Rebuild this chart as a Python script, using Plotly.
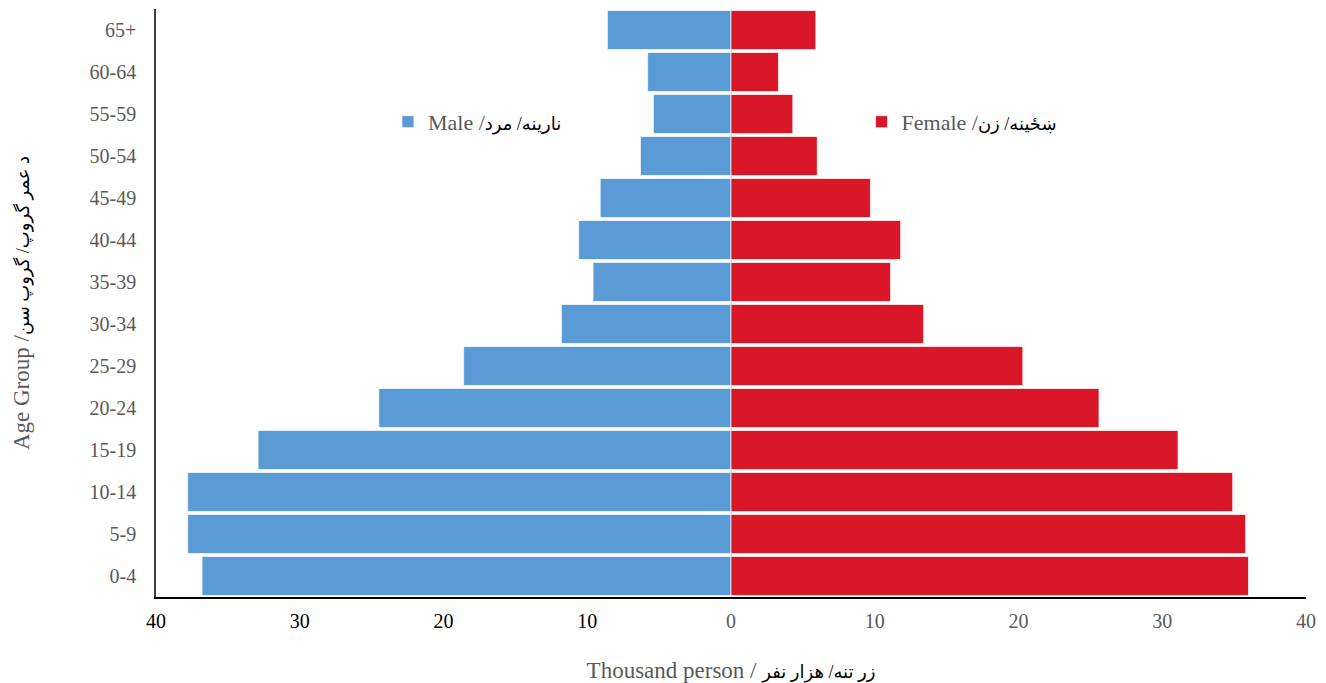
import plotly.graph_objects as go

age_groups = ["0-4", "5-9", "10-14", "15-19", "20-24", "25-29", "30-34",
              "35-39", "40-44", "45-49", "50-54", "55-59", "60-64", "65+"]
male = [36.8, 37.8, 37.8, 32.9, 24.5, 18.6, 11.8, 9.6, 10.6, 9.1, 6.3, 5.4, 5.8, 8.6]
female = [36.0, 35.8, 34.9, 31.1, 25.6, 20.3, 13.4, 11.1, 11.8, 9.7, 6.0, 4.3, 3.3, 5.9]
tick_vals = [-40, -30, -20, -10, 0, 10, 20, 30, 40]
tick_labels = ["40", "30", "20", "10", "0", "10", "20", "30", "40"]

male_en, male_fa = "Male /", "نارینه/ مرد"
female_en, female_fa = "Female /", "ښځینه/ زن"
x_title_en, x_title_fa = "Thousand person / ", "زر تنه/ هزار نفر"
y_title_en, y_title_fa = "Age Group /", "د عمر گروپ/ گروپ سن"

FONT = "Liberation Serif, Times New Roman, DejaVu Sans, serif"
GRAY = "#595959"


def mix(en, fa, size):
    return f'{en}<span style="color:#000000;font-size:{size}px">{fa}</span>'


tick_text = [
    f'<span style="color:{"#000000" if v < 0 else GRAY}">{t}</span>'
    for v, t in zip(tick_vals, tick_labels)
]

fig = go.Figure()
fig.add_trace(go.Bar(
    y=age_groups, x=[-v for v in male], orientation="h", name=mix(male_en, male_fa, 18),
    marker=dict(color="#5B9BD5", line=dict(color="rgba(255,255,255,0.7)", width=1)),
    legend="legend", customdata=male,
    hovertemplate="%{y}: %{customdata}<extra>Male</extra>",
))
fig.add_trace(go.Bar(
    y=age_groups, x=female, orientation="h", name=mix(female_en, female_fa, 18),
    marker=dict(color="#DA1729", line=dict(color="rgba(255,255,255,0.7)", width=1)),
    legend="legend2",
    hovertemplate="%{y}: %{x}<extra>Female</extra>",
))

# page body has an 8px margin, so the figure is sized to fill the rest of the window
fig.update_layout(
    width=1318, height=675,
    margin=dict(l=148, r=20, t=1, b=86),
    paper_bgcolor="white", plot_bgcolor="white",
    barmode="relative", bargap=0.07,
    font=dict(family=FONT, size=20, color=GRAY),
    legend=dict(x=0.2017, y=0.808, xanchor="left", yanchor="middle",
                bgcolor="rgba(0,0,0,0)", font=dict(family=FONT, size=22, color=GRAY)),
    legend2=dict(x=0.6135, y=0.808, xanchor="left", yanchor="middle",
                 bgcolor="rgba(0,0,0,0)", font=dict(family=FONT, size=22, color=GRAY)),
    showlegend=True,
)
fig.update_xaxes(
    range=[-40, 40], tickvals=tick_vals, ticktext=tick_text,
    showgrid=False, zeroline=True, zerolinecolor="#c9d3de", zerolinewidth=1,
    showline=True, linecolor="#000000", linewidth=2,
    ticks="", ticklabelstandoff=5, automargin=False,
    tickfont=dict(family=FONT, size=20),
    title=dict(text=mix(x_title_en, x_title_fa, 18), font=dict(family=FONT, size=23, color=GRAY), standoff=32),
)
fig.update_yaxes(
    showgrid=False, showline=True, linecolor="#404040", linewidth=1.5,
    ticks="", ticklabelstandoff=14, automargin=False,
    tickfont=dict(family=FONT, size=20, color=GRAY),
    title=dict(text=mix(y_title_en, y_title_fa, 18), font=dict(family=FONT, size=23, color=GRAY), standoff=54),
)

fig.write_html("out.html")
